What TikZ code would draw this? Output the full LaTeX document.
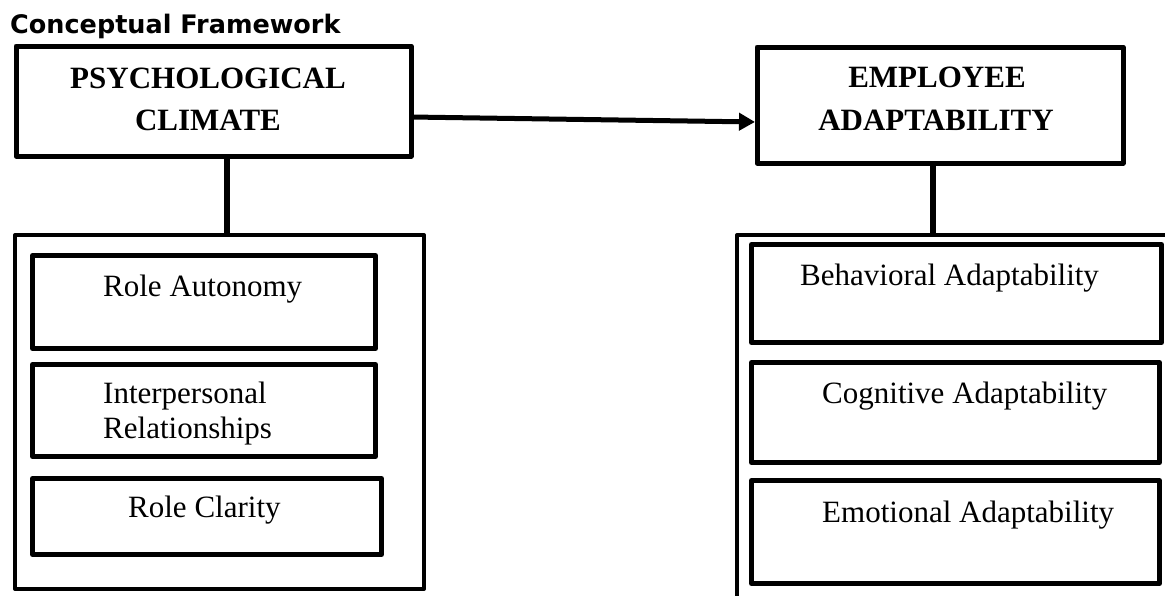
\documentclass[tikz,border=0pt]{standalone}
\usepackage{fontspec}
\setmainfont{Liberation Serif}
\newfontfamily\titlefont{DejaVu Sans}
\usetikzlibrary{arrows.meta}
\tikzset{
  bigbox/.style={draw, rectangle, line width=5pt, inner sep=0pt, outer sep=0pt, line join=round},
  outerbox/.style={draw, rectangle, line width=4pt, inner sep=0pt, outer sep=0pt, line join=round},
  itembox/.style={draw, rectangle, line width=5pt, inner sep=0pt, outer sep=0pt, line join=round},
  headtxt/.style={font=\fontsize{31}{36}\selectfont\bfseries, anchor=base, inner sep=0pt},
  itemtxt/.style={font=\fontsize{31}{36}\selectfont, anchor=base west, inner sep=0pt},
  conn/.style={line width=5.5pt},
}
\begin{document}
\begin{tikzpicture}[x=1pt,y=-1pt]
\useasboundingbox (0,0) rectangle (1165,595);
\clip (0,0) rectangle (1165,595);
% title
\node[anchor=base west, inner sep=0pt, font=\titlefont\fontsize{25.5}{30}\selectfont\bfseries] (title) at (10,33) {Conceptual Framework};
% top boxes
\node[bigbox, minimum width=395pt, minimum height=110pt] (pc) at (213.5,101) {};
\node[bigbox, minimum width=366pt, minimum height=116pt] (ea) at (940,105) {};
\node[headtxt] (pct1) at (208,88) {PSYCHOLOGICAL};
\node[headtxt] (pct2) at (208,130) {CLIMATE};
\node[headtxt] (eat1) at (937,87) {EMPLOYEE};
\node[headtxt] (eat2) at (936,130) {ADAPTABILITY};
% outer boxes
\node[outerbox, minimum width=409pt, minimum height=354pt] (lo) at (219.5,412) {};
\node[outerbox, minimum width=463pt, minimum height=405pt] (ro) at (968.5,437.5) {};
% left items
\node[itembox, minimum width=343pt, minimum height=93pt] (ra) at (204,302) {};
\node[itembox, minimum width=343pt, minimum height=92pt] (ir) at (204,410.5) {};
\node[itembox, minimum width=349pt, minimum height=76pt] (rc) at (207,516.5) {};
\node[itemtxt] (rat) at (103,296) {Role Autonomy};
\node[itemtxt] (irt1) at (103,403) {Interpersonal};
\node[itemtxt] (irt2) at (103,438) {Relationships};
\node[itemtxt] (rct) at (128,517) {Role Clarity};
% right items
\node[itembox, minimum width=410pt, minimum height=98pt] (ba) at (956.5,293.5) {};
\node[itembox, minimum width=408pt, minimum height=100pt] (cg) at (955.5,412.5) {};
\node[itembox, minimum width=408pt, minimum height=103pt] (em) at (955.5,532) {};
\node[itemtxt] (bat) at (800,285) {Behavioral Adaptability};
\node[itemtxt] (cgt) at (822,403) {Cognitive Adaptability};
\node[itemtxt] (emt) at (822,522) {Emotional Adaptability};
% connectors
\draw[line width=5pt, -{Triangle[length=16pt,width=17pt]}, shorten >=2pt]
  ([yshift=-16pt]pc.east) -- ([yshift=-17pt]ea.west);
\draw[conn] ([xshift=13.5pt]pc.south) -- ([xshift=13.5pt]pc.south |- lo.north);
\draw[conn] ([xshift=-7pt]ea.south) -- ([xshift=-7pt]ea.south |- ro.north);
\end{tikzpicture}
\end{document}
